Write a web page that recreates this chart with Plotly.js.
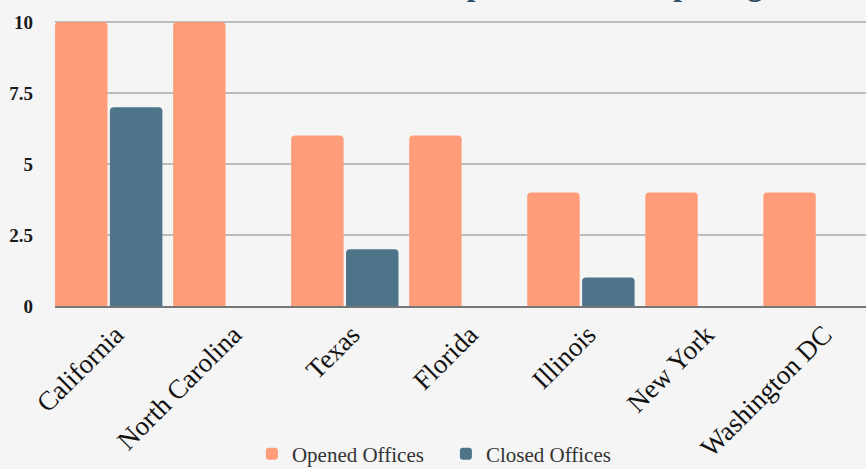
<!DOCTYPE html>
<html>
<head>
<meta charset="utf-8">
<script src="https://cdn.plot.ly/plotly-3.0.1.min.js"></script>
<style>
html,body{margin:0;padding:0;background:#f5f5f5;}
#chart{width:866px;height:469px;}
</style>
</head>
<body>
<div id="chart"></div>
<script>
const states = ["California", "North Carolina", "Texas", "Florida", "Illinois", "New York", "Washington DC"];
const openedOffices = [10, 10, 6, 6, 4, 4, 4];
const closedOffices = [7, 0, 2, 0, 1, 0, 0];
const yTickVals = [0, 2.5, 5, 7.5, 10];
const yTickText = ["0", "2.5", "5", "7.5", "10"];
const titleText = "Corporate Office Openings and Closures";

const serif = "Liberation Serif, Times New Roman, serif";

const traces = [
  {
    type: "bar",
    name: "Opened Offices",
    x: states,
    y: openedOffices,
    marker: {color: "#ff9d7a"}
  },
  {
    type: "bar",
    name: "Closed Offices",
    x: states,
    y: closedOffices,
    marker: {color: "#4e7489"}
  }
];

const layout = {
  width: 866,
  height: 469,
  paper_bgcolor: "#f5f5f5",
  plot_bgcolor: "#f5f5f5",
  margin: {l: 55, r: 0, t: 12, b: 162.5, pad: 0, autoexpand: false},
  barmode: "group",
  bargap: 0.07,
  bargroupgap: 0.044,
  barcornerradius: 4,
  annotations: [{
    text: "<b>" + titleText + "</b>",
    font: {family: serif, size: 31, color: "#2e4d66"},
    xref: "paper", yref: "paper",
    x: 0.4414, xanchor: "left",
    y: 1, yanchor: "bottom",
    yshift: 8,
    showarrow: false
  }],
  xaxis: {
    range: [-0.455, 6.415],
    tickangle: -45,
    tickfont: {family: serif, size: 27, color: "#111"},
    ticklabelshift: 7,
    showgrid: false,
    showline: true,
    linecolor: "#777",
    linewidth: 2,
    ticks: "",
    fixedrange: true
  },
  yaxis: {
    range: [0, 10.35],
    tickvals: yTickVals,
    ticktext: yTickText,
    tickfont: {family: serif, size: 19, color: "#1a1a1a", weight: "bold"},
    showgrid: true,
    gridcolor: "#bdbdbd",
    gridwidth: 2,
    zeroline: false,
    ticks: "",
    ticklabelstandoff: 21,
    fixedrange: true
  },
  legend: {
    orientation: "h",
    xref: "paper", yref: "paper",
    x: 0.482, xanchor: "center",
    y: -0.504, yanchor: "middle",
    font: {family: serif, size: 21, color: "#333"},
    entrywidth: 149,
    bgcolor: "rgba(0,0,0,0)"
  },
  showlegend: true
};

Plotly.newPlot("chart", traces, layout, {displayModeBar: false, staticPlot: true});
</script>
</body>
</html>
